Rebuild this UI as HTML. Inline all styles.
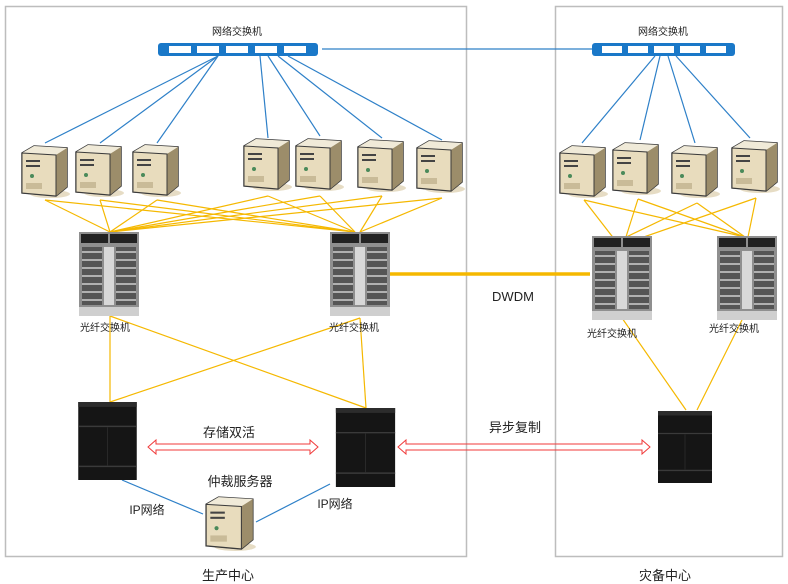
<!DOCTYPE html>
<html><head><meta charset="utf-8"><style>
html,body{margin:0;padding:0;background:#fff;}
svg{display:block;font-family:"Liberation Sans","Noto Sans CJK SC",sans-serif;}
</style></head><body>
<svg width="788" height="584" viewBox="0 0 788 584" xmlns="http://www.w3.org/2000/svg">
<defs>
<symbol id="srv" viewBox="0 0 50 56">
 <ellipse cx="30" cy="51" rx="20" ry="4" fill="#e6dcc4"/>
 <polygon points="2,10 14,3 47,5 47,44 36,53 2,50" fill="#cdbf9c" stroke="#3b3b3b" stroke-width="1.5"/>
 <polygon points="2,10 14,3 47,5 36,12" fill="#f0ead8"/>
 <polygon points="36,12 47,5 47,44 36,53" fill="#9c8d6a"/>
 <polygon points="2,10 36,12 36,53 2,50" fill="#e8dcbd" stroke="#3b3b3b" stroke-width="1"/>
 <rect x="6" y="17" width="14" height="2" fill="#444"/><rect x="6" y="22" width="14" height="2" fill="#444"/>
 <circle cx="12" cy="33" r="2" fill="#4a8a5a"/>
 <rect x="6" y="40" width="16" height="6" fill="#c9bb98"/>
</symbol>
<symbol id="fsw" viewBox="0 0 60 84">
 <rect x="0" y="0" width="60" height="80" fill="#8f8f8f"/>
 <rect x="2" y="2" width="27" height="9" fill="#222"/><rect x="31" y="2" width="27" height="9" fill="#222"/>
 <g fill="#c8c8c8">
  <rect x="3" y="15" width="20" height="58" fill="#555"/><rect x="37" y="15" width="20" height="58" fill="#555"/>
 </g>
 <g stroke="#cfcfcf" stroke-width="1.5">
  <line x1="3" y1="20" x2="23" y2="20"/><line x1="3" y1="28" x2="23" y2="28"/><line x1="3" y1="36" x2="23" y2="36"/><line x1="3" y1="44" x2="23" y2="44"/><line x1="3" y1="52" x2="23" y2="52"/><line x1="3" y1="60" x2="23" y2="60"/><line x1="3" y1="68" x2="23" y2="68"/>
  <line x1="37" y1="20" x2="57" y2="20"/><line x1="37" y1="28" x2="57" y2="28"/><line x1="37" y1="36" x2="57" y2="36"/><line x1="37" y1="44" x2="57" y2="44"/><line x1="37" y1="52" x2="57" y2="52"/><line x1="37" y1="60" x2="57" y2="60"/><line x1="37" y1="68" x2="57" y2="68"/>
 </g>
 <rect x="25" y="15" width="10" height="58" fill="#d8d8d8"/>
 <rect x="0" y="75" width="60" height="9" fill="#cfcfcf"/>
</symbol>
<symbol id="sto" viewBox="0 0 60 80">
 <rect x="0" y="0" width="60" height="80" fill="#151515"/>
 <rect x="0" y="0" width="60" height="5" fill="#2c2c2c"/>
 <line x1="0" y1="25" x2="60" y2="25" stroke="#3a3a3a" stroke-width="1.5"/>
 <line x1="0" y1="66" x2="60" y2="66" stroke="#3a3a3a" stroke-width="1.5"/>
 <line x1="30" y1="26" x2="30" y2="65" stroke="#2a2a2a"/>
</symbol>
</defs>

<rect x="5.5" y="6.5" width="461" height="550" fill="none" stroke="#bdbdbd" stroke-width="1.5"/>
<rect x="555.5" y="6.5" width="227" height="550" fill="none" stroke="#bdbdbd" stroke-width="1.5"/>

<!-- blue lines -->
<g stroke="#2e80c8" stroke-width="1.2" fill="none">
 <line x1="322" y1="49" x2="592" y2="49"/>
 <line x1="218" y1="56" x2="45" y2="143"/><line x1="218" y1="56" x2="100" y2="143"/><line x1="218" y1="56" x2="157" y2="143"/>
 <line x1="260" y1="56" x2="268" y2="138"/><line x1="268" y1="56" x2="320" y2="136"/><line x1="278" y1="56" x2="382" y2="138"/><line x1="288" y1="56" x2="442" y2="140"/>
 <line x1="655" y1="56" x2="582" y2="143"/><line x1="660" y1="56" x2="640" y2="140"/><line x1="668" y1="56" x2="695" y2="143"/><line x1="676" y1="56" x2="750" y2="138"/>
 <line x1="122" y1="480" x2="203" y2="514"/><line x1="330" y1="484" x2="256" y2="522"/>
</g>
<!-- switches -->
<g>
 <rect x="158" y="43" width="160" height="13" rx="3" fill="#1a78c8"/>
 <g fill="#fff"><rect x="169" y="46" width="22" height="7"/><rect x="197" y="46" width="22" height="7"/><rect x="226" y="46" width="22" height="7"/><rect x="255" y="46" width="22" height="7"/><rect x="284" y="46" width="22" height="7"/></g>
 <rect x="592" y="43" width="143" height="13" rx="3" fill="#1a78c8"/>
 <g fill="#fff"><rect x="602" y="46" width="20" height="7"/><rect x="628" y="46" width="20" height="7"/><rect x="654" y="46" width="20" height="7"/><rect x="680" y="46" width="20" height="7"/><rect x="706" y="46" width="20" height="7"/></g>
</g>
<text x="237" y="35" font-size="10" text-anchor="middle" fill="#222">网络交换机</text>
<text x="663" y="35" font-size="10" text-anchor="middle" fill="#222">网络交换机</text>

<!-- yellow lines -->
<g stroke="#f5b800" stroke-width="1.2" fill="none">
 <line x1="45" y1="200" x2="110" y2="232"/><line x1="45" y1="200" x2="355" y2="232"/>
 <line x1="100" y1="200" x2="110" y2="232"/><line x1="100" y1="200" x2="355" y2="232"/>
 <line x1="157" y1="200" x2="110" y2="232"/><line x1="157" y1="200" x2="355" y2="232"/>
 <line x1="268" y1="196" x2="110" y2="232"/><line x1="268" y1="196" x2="355" y2="232"/>
 <line x1="320" y1="196" x2="110" y2="232"/><line x1="320" y1="196" x2="355" y2="232"/>
 <line x1="382" y1="196" x2="110" y2="232"/><line x1="382" y1="196" x2="360" y2="232"/>
 <line x1="442" y1="198" x2="110" y2="232"/><line x1="442" y1="198" x2="360" y2="232"/>
 <line x1="584" y1="200" x2="615" y2="240"/><line x1="584" y1="200" x2="745" y2="237"/>
 <line x1="638" y1="199" x2="625" y2="240"/><line x1="638" y1="199" x2="745" y2="237"/>
 <line x1="697" y1="203" x2="620" y2="240"/><line x1="697" y1="203" x2="745" y2="237"/>
 <line x1="756" y1="198" x2="635" y2="240"/><line x1="756" y1="198" x2="748" y2="237"/>
 <line x1="110" y1="316" x2="110" y2="402"/><line x1="110" y1="316" x2="366" y2="408"/>
 <line x1="360" y1="318" x2="110" y2="402"/><line x1="360" y1="318" x2="366" y2="408"/>
 <line x1="622" y1="318" x2="686" y2="410"/><line x1="742" y1="320" x2="697" y2="410"/>
</g>
<line x1="390" y1="274" x2="590" y2="274" stroke="#f5b800" stroke-width="3.5"/>

<!-- servers -->
<use href="#srv" x="20" y="143" width="50" height="56"/>
<use href="#srv" x="74" y="142" width="50" height="56"/>
<use href="#srv" x="131" y="142" width="50" height="56"/>
<use href="#srv" x="242" y="136" width="50" height="56"/>
<use href="#srv" x="294" y="136" width="50" height="56"/>
<use href="#srv" x="356" y="137" width="50" height="56"/>
<use href="#srv" x="415" y="138" width="50" height="56"/>
<use href="#srv" x="558" y="143" width="50" height="56"/>
<use href="#srv" x="611" y="140" width="50" height="56"/>
<use href="#srv" x="670" y="143" width="50" height="56"/>
<use href="#srv" x="730" y="138" width="50" height="56"/>
<use href="#srv" x="204" y="494" width="52" height="58"/>

<!-- fiber switches -->
<use href="#fsw" x="78" y="232" width="62" height="84"/>
<use href="#fsw" x="329" y="232" width="62" height="84"/>
<use href="#fsw" x="591" y="236" width="62" height="84"/>
<use href="#fsw" x="716" y="236" width="62" height="84"/>

<g font-size="10" text-anchor="middle" fill="#222">
<text x="105" y="331">光纤交换机</text><text x="354" y="331">光纤交换机</text>
<text x="612" y="337">光纤交换机</text><text x="734" y="332">光纤交换机</text>
</g>
<text x="513" y="301" font-size="13" text-anchor="middle" fill="#222">DWDM</text>

<!-- storage -->
<use href="#sto" x="78" y="402" width="59" height="78"/>
<use href="#sto" x="335" y="408" width="61" height="79"/>
<use href="#sto" x="657" y="411" width="56" height="72"/>

<!-- red arrows -->
<g fill="none" stroke="#f03a3a" stroke-width="1">
 <polygon points="148,447 156,440 156,444 310,444 310,440 318,447 310,454 310,450 156,450 156,454"/>
 <polygon points="398,447 406,440 406,444 642,444 642,440 650,447 642,454 642,450 406,450 406,454"/>
</g>
<g font-size="13" text-anchor="middle" fill="#222">
<text x="229" y="437">存储双活</text>
<text x="515" y="432">异步复制</text>
<text x="240" y="486">仲裁服务器</text>
<text x="147" y="514" font-size="12">IP网络</text>
<text x="335" y="508" font-size="12">IP网络</text>
<text x="228" y="580">生产中心</text>
<text x="665" y="580">灾备中心</text>
</g>
</svg>
</body></html>
